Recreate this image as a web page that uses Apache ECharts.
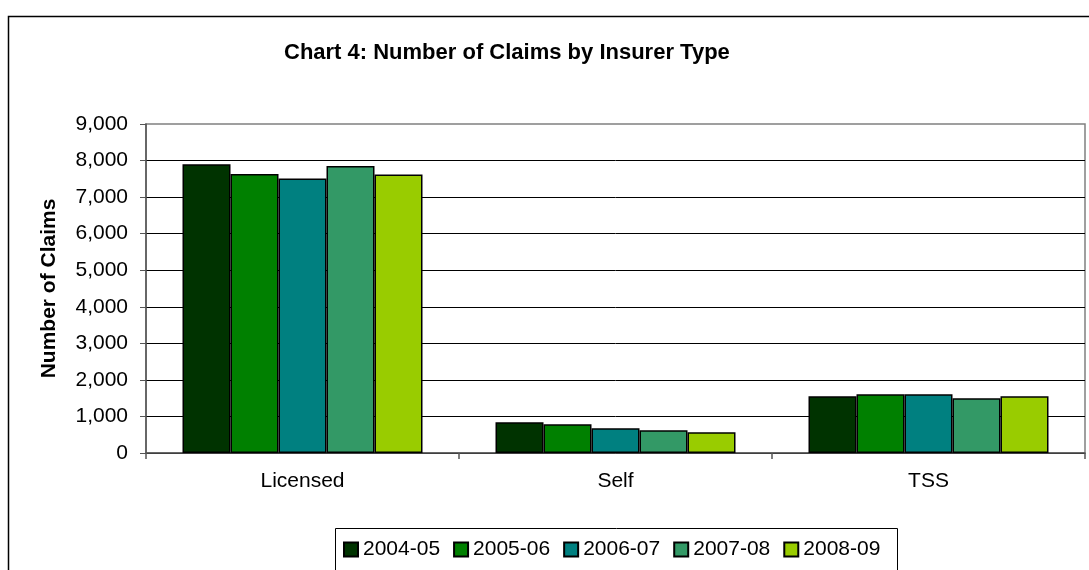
<!DOCTYPE html>
<html>
<head>
<meta charset="utf-8">
<title>Chart 4: Number of Claims by Insurer Type</title>
<script src="https://cdn.jsdelivr.net/npm/echarts@6/dist/echarts.min.js"></script>
<style>
	html, body { margin: 0; padding: 0; background: #fff; }
	#chart { width: 1089px; height: 570px; }
</style>
</head>
<body>
<div id="chart"></div>
<script>
// categories and series
const insurerTypes = ['Licensed', 'Self', 'TSS']
const years = ['2004-05', '2005-06', '2006-07', '2007-08', '2008-09']
const claims0405 = [7900, 840, 1550]
const claims0506 = [7630, 785, 1605]
const claims0607 = [7510, 675, 1605]
const claims0708 = [7850, 620, 1495]
const claims0809 = [7620, 565, 1550]
const yearColors = ['#003300', '#008000', '#008080', '#339966', '#99cc00']

const seriesValues = [claims0405, claims0506, claims0607, claims0708, claims0809]
const font = 'Arial, "Liberation Sans", sans-serif'

const chart = echarts.init(document.getElementById('chart'))

const option = {
	animation: false,
	title: {
		text: 'Chart 4: Number of Claims by Insurer Type',
		left: 284,
		top: 42,
		padding: 0,
		textStyle: { fontFamily: font, fontSize: 22, fontWeight: 'bold', color: '#000' },
	},
	// outer chart frame and legend box (both run off the picture)
	graphic: [
		{
			type: 'rect',
			shape: { x: 8.5, y: 16.5, width: 1200, height: 700 },
			style: { fill: 'none', stroke: '#000', lineWidth: 1.5 },
			z: -1,
		},
		{
			type: 'rect',
			shape: { x: 335.5, y: 528.5, width: 562, height: 100 },
			style: { fill: 'none', stroke: '#000', lineWidth: 1 },
			z: -1,
		},
	],
	legend: {
		data: years,
		left: 343,
		top: 539,
		padding: 0,
		itemWidth: 14,
		itemHeight: 14,
		itemGap: 13,
		icon: 'rect',
		textStyle: { fontFamily: font, fontSize: 21, color: '#000' },
	},
	grid: {
		left: 146,
		right: 4,
		top: 124,
		bottom: 117,
		show: true,
		borderColor: '#808080',
		borderWidth: 1.5,
	},
	xAxis: {
		type: 'category',
		data: insurerTypes,
		axisLine: { lineStyle: { color: '#555', width: 1.5 } },
		axisTick: { show: true, length: 6, lineStyle: { color: '#555', width: 1.5 } },
		axisLabel: { margin: 18, fontFamily: font, fontSize: 21, color: '#000' },
		splitLine: { show: false },
	},
	yAxis: {
		type: 'value',
		min: 0,
		max: 9000,
		interval: 1000,
		name: 'Number of Claims',
		nameLocation: 'middle',
		nameGap: 86,
		nameTextStyle: { fontFamily: font, fontSize: 21, fontWeight: 'bold', color: '#000' },
		axisLine: { show: true, lineStyle: { color: '#555', width: 1.5 } },
		axisTick: { show: true, length: 6, lineStyle: { color: '#555', width: 1 } },
		axisLabel: {
			margin: 18,
			fontFamily: font,
			fontSize: 21,
			color: '#000',
			formatter: (v) => v.toLocaleString('en-US'),
		},
		splitLine: { show: true, showMaxLine: false, lineStyle: { color: '#000', width: 1 } },
	},
	series: years.map((year, i) => ({
		name: year,
		type: 'bar',
		data: seriesValues[i],
		barWidth: 48,
		barGap: '0%',
		itemStyle: { color: yearColors[i], borderColor: '#000', borderWidth: 1.5 },
	})),
}

chart.setOption(option)
window.addEventListener('resize', chart.resize)
</script>
</body>
</html>
